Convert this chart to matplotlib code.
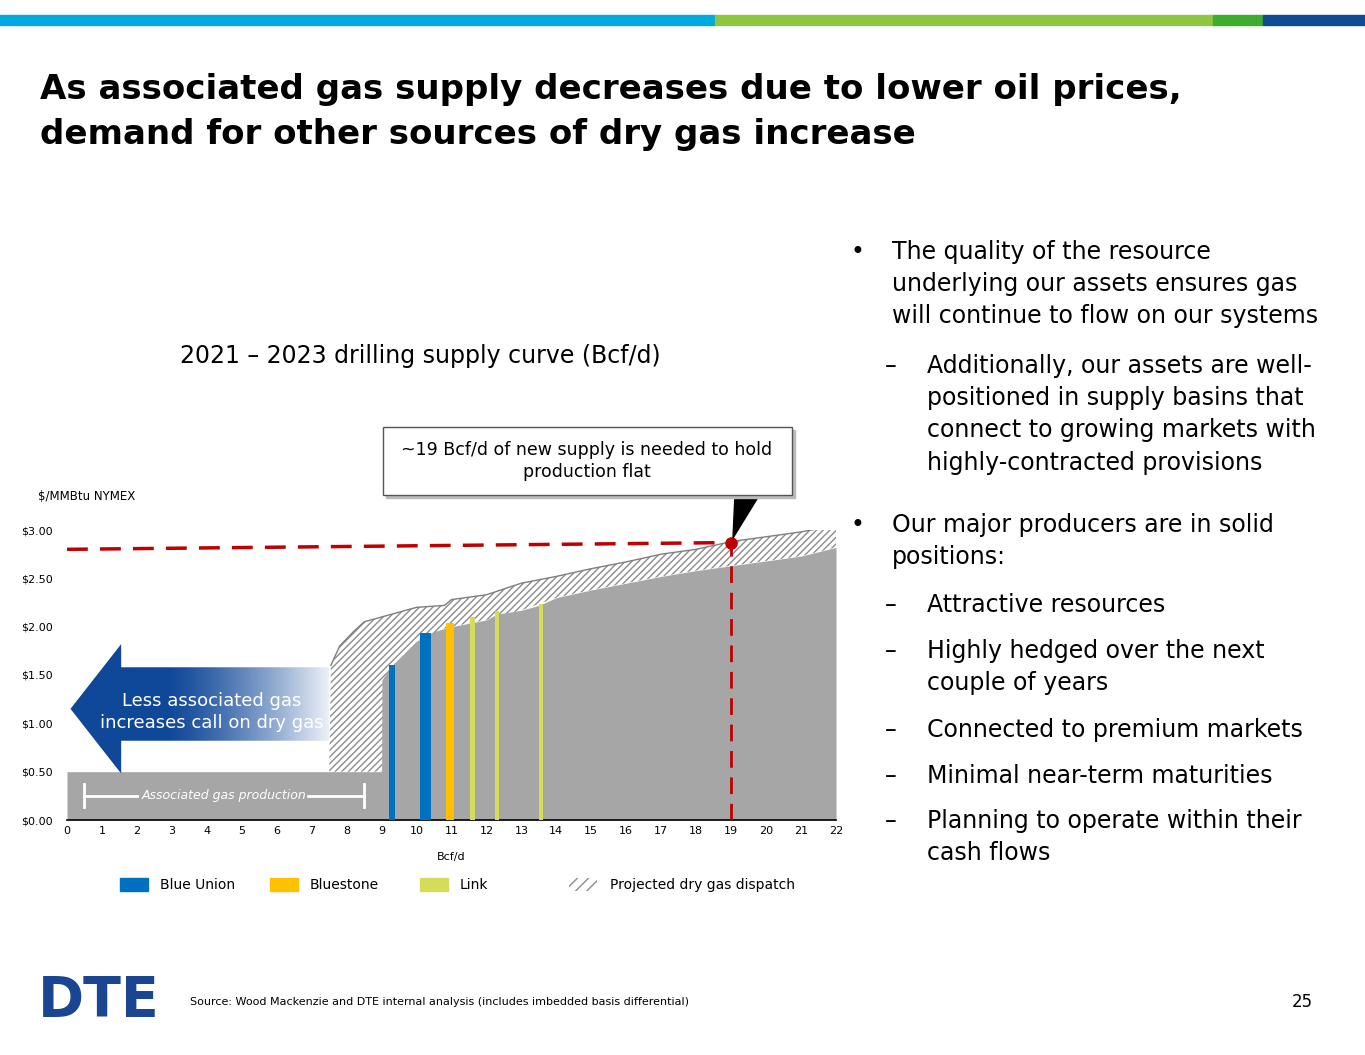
import matplotlib.pyplot as plt
import numpy as np
from matplotlib.patches import Polygon, Rectangle

# supply curve (Bcf/d vs $/MMBtu)
base_x = [0, 9, 9.01, 9.3, 10, 10.5, 11, 12, 12.3, 13, 13.5, 14, 15, 16, 17, 18, 19, 20, 21, 22]
base_y = [0.5, 0.5, 1.45, 1.6, 1.85, 1.95, 2.0, 2.07, 2.13, 2.17, 2.22, 2.3, 2.38, 2.45, 2.52, 2.58, 2.63, 2.68, 2.73, 2.82]
top_x = [7.5, 7.55, 7.8, 8.2, 8.5, 9, 10, 10.8, 11, 12, 13, 14, 15, 16, 17, 18, 19, 20, 21, 22]
top_y = [0.5, 1.6, 1.8, 1.95, 2.05, 2.1, 2.2, 2.22, 2.28, 2.33, 2.45, 2.52, 2.6, 2.67, 2.75, 2.8, 2.88, 2.93, 2.98, 3.05]

bar_x = [9.3, 10.25, 10.95, 11.6, 12.3, 13.55]
bar_h = [1.6, 1.93, 2.04, 2.1, 2.16, 2.23]
bar_w = [0.15, 0.3, 0.22, 0.12, 0.12, 0.12]
bar_c = ['#0070C0', '#0070C0', '#FFC000', '#D4DC5A', '#D4DC5A', '#D4DC5A']

target_x = 19
target_y = 2.87
start_y = 2.80

fig = plt.figure(figsize=(13.65, 10.55), dpi=100)

# top colour stripes
for x0, x1, c in [(0, 715, '#00A9E0'), (715, 1213, '#8DC63F'), (1213, 1263, '#3DAE2B'), (1263, 1365, '#0F4C92')]:
    fig.patches.append(Rectangle((x0 / 1365, 1 - 25 / 1055), (x1 - x0) / 1365, 10 / 1055,
                                 transform=fig.transFigure, color=c))

fig.text(40 / 1365, 1 - 112 / 1055, 'As associated gas supply decreases due to lower oil prices,\n'
         'demand for other sources of dry gas increase', fontsize=24.5, fontweight='bold',
         va='center', linespacing=1.45, color='black')
fig.text(420 / 1365, 1 - 356 / 1055, '2021 – 2023 drilling supply curve (Bcf/d)', fontsize=17, ha='center', va='center')
fig.text(38 / 1365, 1 - 497 / 1055, '$/MMBtu NYMEX', fontsize=8.5, va='center')

ax = fig.add_axes([67 / 1365, 1 - 820 / 1055, 769 / 1365, 290 / 1055])
ax.set_xlim(0, 22)
ax.set_ylim(0, 3.0)
ax.set_xticks(range(23))
ax.set_yticks([0, 0.5, 1, 1.5, 2, 2.5, 3])
ax.set_yticklabels([f'${v:.2f}' for v in ax.get_yticks()])
ax.tick_params(labelsize=8, length=0, pad=4)
ax.tick_params(axis='y', pad=10)
for s in ['top', 'right', 'left']:
    ax.spines[s].set_visible(False)
ax.spines['bottom'].set_linewidth(1.2)
ax.set_xlabel('Bcf/d', fontsize=8, labelpad=12)

# hatched dispatch region
plt.rcParams['hatch.color'] = '#8c8c8c'
tx = np.array(top_x)
ty = np.array(top_y)
by = np.interp(tx, base_x, base_y)
by[tx < 9] = 0.5
ax.fill_between(tx, by, ty, facecolor='white', hatch='/////', edgecolor='#8c8c8c', linewidth=0)
ax.plot(tx[1:], ty[1:], color='#7f7f7f', lw=1)
ax.fill_between(base_x, 0, base_y, color='#A6A6A6', lw=0)

for x, h, w, c in zip(bar_x, bar_h, bar_w, bar_c):
    ax.bar(x, h, width=w, color=c, zorder=3)

# red target lines
ax.plot([0, target_x], [start_y, target_y], color='#C00000', lw=2.5, ls=(0, (6, 3.5)), zorder=4)
ax.plot([target_x, target_x], [0, target_y], color='#C00000', lw=2, ls=(0, (6, 3.5)), zorder=4)
ax.plot(target_x, target_y, 'o', color='#C00000', ms=8, zorder=5)

# arrow with fade
arrow = Polygon([(0.1, 1.15), (1.55, 1.82), (1.55, 1.58), (7.5, 1.58), (7.5, 0.82),
                 (1.55, 0.82), (1.55, 0.48), ], closed=True, facecolor='none', edgecolor='none')
ax.add_patch(arrow)
grad = np.ones((2, 256, 4))
grad[..., 0], grad[..., 1], grad[..., 2] = 0.06, 0.28, 0.6
grad[..., 3] = np.clip(1.0 - np.clip(np.linspace(-0.6, 1, 256), 0, 1) ** 1.3 * 0.92, 0.08, 1)
im = ax.imshow(grad, extent=[0.1, 7.5, 0.48, 1.82], aspect='auto', zorder=6)
im.set_clip_path(arrow)
ax.text(4.15, 1.12, 'Less associated gas\nincreases call on dry gas', color='white', fontsize=13,
        ha='center', va='center', zorder=7, linespacing=1.3)

# associated gas bracket
ax.plot([0.5, 2.0], [0.25, 0.25], color='white', lw=2)
ax.plot([6.9, 8.5], [0.25, 0.25], color='white', lw=2)
ax.plot([0.5, 0.5], [0.13, 0.37], color='white', lw=2)
ax.plot([8.5, 8.5], [0.13, 0.37], color='white', lw=2)
ax.text(4.5, 0.25, 'Associated gas production', color='white', fontsize=9, style='italic',
        ha='center', va='center')

# callout
fig.patches.append(Polygon([(735 / 1365, 1 - 494 / 1055), (760 / 1365, 1 - 494 / 1055), (733 / 1365, 1 - 538 / 1055)],
                           transform=fig.transFigure, color='black'))
fig.patches.append(Rectangle((386 / 1365, 1 - 498 / 1055), 409 / 1365, 68 / 1055, transform=fig.transFigure,
                             color='#bbbbbb'))
fig.patches.append(Rectangle((383 / 1365, 1 - 495 / 1055), 409 / 1365, 68 / 1055, transform=fig.transFigure,
                             facecolor='white', edgecolor='#555555', lw=1))
fig.text(587 / 1365, 1 - 461 / 1055, '~19 Bcf/d of new supply is needed to hold\nproduction flat',
         fontsize=12.5, ha='center', va='center', linespacing=1.35)

# legend
leg = [(120, '#0070C0', 'Blue Union'), (270, '#FFC000', 'Bluestone'), (420, '#D4DC5A', 'Link')]
for x, c, t in leg:
    fig.patches.append(Rectangle((x / 1365, 1 - 891 / 1055), 28 / 1365, 13 / 1055, transform=fig.transFigure, color=c))
    fig.text((x + 40) / 1365, 1 - 885 / 1055, t, fontsize=10, va='center')
fig.patches.append(Rectangle((569 / 1365, 1 - 891 / 1055), 28 / 1365, 13 / 1055, transform=fig.transFigure,
                             facecolor='white', hatch='///', edgecolor='#8c8c8c', lw=0))
fig.text(610 / 1365, 1 - 885 / 1055, 'Projected dry gas dispatch', fontsize=10, va='center')

# bullets
bullets = [
    (850, 892, 240, '•', 'The quality of the resource\nunderlying our assets ensures gas\nwill continue to flow on our systems'),
    (885, 927, 354, '–', 'Additionally, our assets are well-\npositioned in supply basins that\nconnect to growing markets with\nhighly-contracted provisions'),
    (850, 892, 513, '•', 'Our major producers are in solid\npositions:'),
    (885, 927, 593, '–', 'Attractive resources'),
    (885, 927, 639, '–', 'Highly hedged over the next\ncouple of years'),
    (885, 927, 718, '–', 'Connected to premium markets'),
    (885, 927, 764, '–', 'Minimal near-term maturities'),
    (885, 927, 809, '–', 'Planning to operate within their\ncash flows'),
]
for bx, tx0, y, sym, t in bullets:
    fig.text(bx / 1365, 1 - y / 1055, sym, fontsize=17, va='top', ha='left')
    fig.text(tx0 / 1365, 1 - y / 1055, t, fontsize=17, va='top', ha='left', linespacing=1.43)

# footer
fig.text(38 / 1365, 1 - 1001 / 1055, 'DTE', fontsize=40, fontweight='heavy', color='#1A4590',
         va='center', family='DejaVu Sans')
fig.text(190 / 1365, 1 - 1002 / 1055, 'Source: Wood Mackenzie and DTE internal analysis (includes imbedded basis differential)',
         fontsize=8, va='center')
fig.text(1313 / 1365, 1 - 1002 / 1055, '25', fontsize=12, va='center', ha='right')

fig.savefig('out.png', dpi=100)
